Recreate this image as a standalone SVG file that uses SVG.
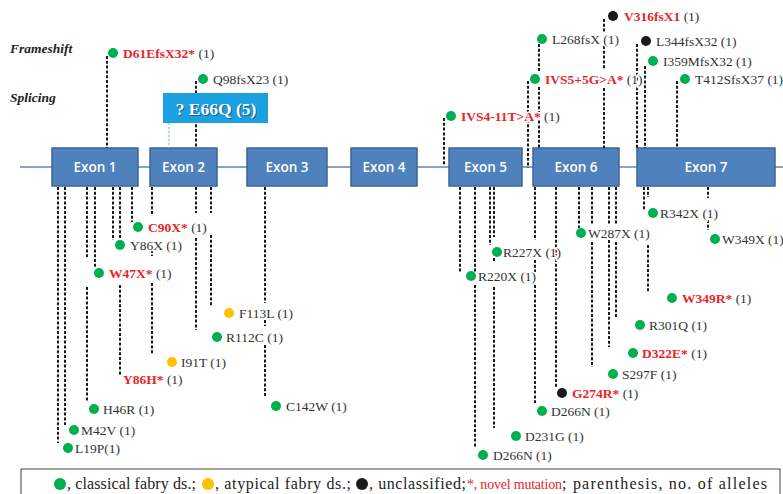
<svg xmlns="http://www.w3.org/2000/svg" width="783" height="494" viewBox="0 0 783 494">
<defs>
<style>
.ex rect{fill:#4f81bd;stroke:#3b6597;stroke-width:1.5}
.ex text{font-family:"Open Sans","Liberation Sans",sans-serif;font-size:13.5px;font-weight:600;fill:#fff;text-anchor:middle}
.c path{fill:none;stroke:#1a1a1a;stroke-width:2;stroke-dasharray:3 1.8}
.c path.e66{stroke:#9cc2e6;stroke-width:1.5;stroke-dasharray:2 2}
.g{fill:#00b050}.y{fill:#ffc000}.k{fill:#1a1a1a}
.t{font-family:"Liberation Serif","Times New Roman",serif;font-size:13.5px;fill:#333;stroke:#fff;stroke-width:3;paint-order:stroke;stroke-linejoin:round}
.r{fill:#e8262a;font-weight:bold}
.cat{font-family:"Liberation Serif","Times New Roman",serif;font-size:13.5px;font-weight:bold;font-style:italic;fill:#222}
.lg{font-family:"Liberation Serif","Times New Roman",serif;font-size:16px;fill:#222}
</style>
</defs>
<rect width="783" height="494" fill="#fff"/>

<text class="cat" x="10" y="53">Frameshift</text>
<text class="cat" x="10" y="102">Splicing</text>

<line x1="20" y1="167" x2="783" y2="167" stroke="#5b87c0" stroke-width="1.5"/>

<g id="exon1" class="ex"><rect x="52" y="148" width="86" height="38"/><text x="95" y="172">Exon 1</text></g>
<g id="exon2" class="ex"><rect x="150" y="148" width="67" height="38"/><text x="183.5" y="172">Exon 2</text></g>
<g id="exon3" class="ex"><rect x="247" y="148" width="80" height="38"/><text x="287" y="172">Exon 3</text></g>
<g id="exon4" class="ex"><rect x="351" y="148" width="66" height="38"/><text x="384" y="172">Exon 4</text></g>
<g id="exon5" class="ex"><rect x="449" y="148" width="73" height="38"/><text x="485.5" y="172">Exon 5</text></g>
<g id="exon6" class="ex"><rect x="533" y="148" width="86" height="38"/><text x="576" y="172">Exon 6</text></g>
<g id="exon7" class="ex"><rect x="637" y="148" width="138" height="38"/><text x="706" y="172">Exon 7</text></g>

<g id="connectors" class="c">
<path d="M107 56V148"/>
<path d="M196 81V148"/>
<path class="e66" d="M169 123V148"/>
<path d="M604 19V32M604 46V70M604 88V148"/>
<path d="M539 44V71M539 87V148"/>
<path d="M528 81V168"/>
<path d="M444 118V165"/>
<path d="M637 44V148"/>
<path d="M645 66V148"/>
<path d="M677 81V148"/>
<path d="M58 187V443"/>
<path d="M65 187V425"/>
<path d="M87 187V257M87 287V402"/>
<path d="M95 187V267"/>
<path d="M113 187V240"/>
<path d="M120 187V238M120 285V375"/>
<path d="M132 187V222"/>
<path d="M152 187V215M152 250V256M152 283V355"/>
<path d="M196 187V213M196 238V330"/>
<path d="M211 187V213M211 235V307"/>
<path d="M265 187V303M265 320V326M265 345V397"/>
<path d="M460 187V272"/>
<path d="M475 187V272M475 285V448"/>
<path d="M490 187V245"/>
<path d="M494 187V237M494 258V262M494 287V428"/>
<path d="M535 187V240M535 260V272M535 285V403"/>
<path d="M556 187V387"/>
<path d="M579 187V228"/>
<path d="M592 187V225M592 242V367"/>
<path d="M609 187V225M609 240V347"/>
<path d="M616 187V225M616 242V317"/>
<path d="M644 187V210"/>
<path d="M648 187V197M648 245V292"/>
<path d="M708 187V198M708 220V230"/>
</g>

<g id="E66Q">
<rect x="163" y="93" width="105" height="30" fill="#1ba1e2"/>
<text x="216" y="115" text-anchor="middle" font-family="Liberation Serif,serif" font-size="17.5" font-weight="bold" fill="#1a3a5a" opacity="0.6" transform="translate(1.2,1.2)">? E66Q (5)</text>
<text x="216" y="115" text-anchor="middle" font-family="Liberation Serif,serif" font-size="17.5" font-weight="bold" fill="#fff">? E66Q (5)</text>
</g>

<g id="D61EfsX32"><circle class="g" cx="113" cy="53" r="5"/><text class="t" x="123" y="57.5"><tspan class="r">D61EfsX32*</tspan> (1)</text></g>
<g id="Q98fsX23"><circle class="g" cx="203" cy="79" r="5"/><text class="t" x="213" y="83.5">Q98fsX23 (1)</text></g>
<g id="V316fsX1"><circle class="k" cx="613" cy="16" r="5"/><text class="t" x="624" y="20.5"><tspan class="r">V316fsX1</tspan> (1)</text></g>
<g id="L268fsX"><circle class="g" cx="542" cy="39" r="5"/><text class="t" x="552" y="43.5">L268fsX (1)</text></g>
<g id="L344fsX32"><circle class="k" cx="646" cy="41" r="5"/><text class="t" x="656" y="45.5">L344fsX32 (1)</text></g>
<g id="I359MfsX32"><circle class="g" cx="653" cy="61" r="5"/><text class="t" x="663" y="65.5">I359MfsX32 (1)</text></g>
<g id="IVS5"><circle class="g" cx="535" cy="79" r="5"/><text class="t" x="545" y="83.5"><tspan class="r">IVS5+5G&gt;A*</tspan> (1)</text></g>
<g id="T412SfsX37"><circle class="g" cx="685" cy="79" r="5"/><text class="t" x="695" y="83.5">T412SfsX37 (1)</text></g>
<g id="IVS4"><circle class="g" cx="451" cy="116" r="5"/><text class="t" x="461" y="120.5"><tspan class="r">IVS4-11T&gt;A*</tspan> (1)</text></g>

<g id="C90X"><circle class="g" cx="138" cy="227" r="5"/><text class="t" x="148" y="231.5"><tspan class="r">C90X*</tspan> (1)</text></g>
<g id="Y86X"><circle class="g" cx="120" cy="245" r="5"/><text class="t" x="130" y="249.5">Y86X (1)</text></g>
<g id="W47X"><circle class="g" cx="99" cy="273" r="5"/><text class="t" x="109" y="277.5"><tspan class="r">W47X*</tspan> (1)</text></g>
<g id="F113L"><circle class="y" cx="229" cy="313" r="5"/><text class="t" x="239" y="317.5">F113L (1)</text></g>
<g id="R112C"><circle class="g" cx="217" cy="337" r="5"/><text class="t" x="226" y="341.5">R112C (1)</text></g>
<g id="I91T"><circle class="y" cx="172" cy="362" r="5"/><text class="t" x="181" y="366.5">I91T (1)</text></g>
<g id="Y86H"><text class="t" x="123" y="384"><tspan class="r">Y86H*</tspan> (1)</text></g>
<g id="H46R"><circle class="g" cx="94" cy="409" r="5"/><text class="t" x="103" y="413.5">H46R (1)</text></g>
<g id="M42V"><circle class="g" cx="74" cy="430" r="5"/><text class="t" x="81" y="434.5">M42V (1)</text></g>
<g id="L19P"><circle class="g" cx="68" cy="448" r="5"/><text class="t" x="75" y="452.5">L19P(1)</text></g>
<g id="C142W"><circle class="g" cx="276" cy="406" r="5"/><text class="t" x="286" y="410.5">C142W (1)</text></g>

<g id="R342X"><circle class="g" cx="653" cy="213" r="5"/><text class="t" x="660" y="217.5">R342X (1)</text></g>
<g id="W349X"><circle class="g" cx="715" cy="239" r="5"/><text class="t" x="722" y="243.5">W349X (1)</text></g>
<g id="W287X"><circle class="g" cx="581" cy="233" r="5"/><text class="t" x="588" y="237.5">W287X (1)</text></g>
<g id="R227X"><circle class="g" cx="497" cy="252" r="5"/><text class="t" x="503" y="256.5">R227X (1)</text></g>
<g id="R220X"><circle class="g" cx="471" cy="276" r="5"/><text class="t" x="478" y="280.5">R220X (1)</text></g>
<g id="W349R"><circle class="g" cx="672" cy="298" r="5"/><text class="t" x="682" y="302.5"><tspan class="r">W349R*</tspan> (1)</text></g>
<g id="R301Q"><circle class="g" cx="640" cy="325" r="5"/><text class="t" x="649" y="329.5">R301Q (1)</text></g>
<g id="D322E"><circle class="g" cx="633" cy="353" r="5"/><text class="t" x="642" y="357.5"><tspan class="r">D322E*</tspan> (1)</text></g>
<g id="S297F"><circle class="g" cx="613" cy="374" r="5"/><text class="t" x="622" y="378.5">S297F (1)</text></g>
<g id="G274R"><circle class="k" cx="562" cy="393" r="5"/><text class="t" x="572" y="397.5"><tspan class="r">G274R*</tspan> (1)</text></g>
<g id="D266N-a"><circle class="g" cx="542" cy="411" r="5"/><text class="t" x="551" y="415.5">D266N (1)</text></g>
<g id="D231G"><circle class="g" cx="516" cy="436" r="5"/><text class="t" x="525" y="440.5">D231G (1)</text></g>
<g id="D266N-b"><circle class="g" cx="483" cy="455" r="5"/><text class="t" x="493" y="459.5">D266N (1)</text></g>

<g id="legend">
<rect x="21" y="469" width="759" height="40" fill="#fff" stroke="#444" stroke-width="1"/>
<circle class="g" cx="60" cy="484" r="6"/>
<text class="lg" x="67" y="489" textLength="129" lengthAdjust="spacing">, classical fabry ds.;</text>
<circle class="y" cx="208" cy="484" r="6"/>
<text class="lg" x="215" y="489" textLength="136" lengthAdjust="spacing">, atypical fabry ds.;</text>
<circle class="k" cx="362" cy="484" r="6"/>
<text class="lg" x="369" y="489" textLength="97" lengthAdjust="spacing">, unclassified;</text>
<text class="lg" x="467" y="489" textLength="95" lengthAdjust="spacing" style="fill:#e8262a;font-size:14px">*, novel mutation</text>
<text class="lg" x="562" y="489" textLength="205" lengthAdjust="spacing">; parenthesis, no. of  alleles</text>
</g>
</svg>
